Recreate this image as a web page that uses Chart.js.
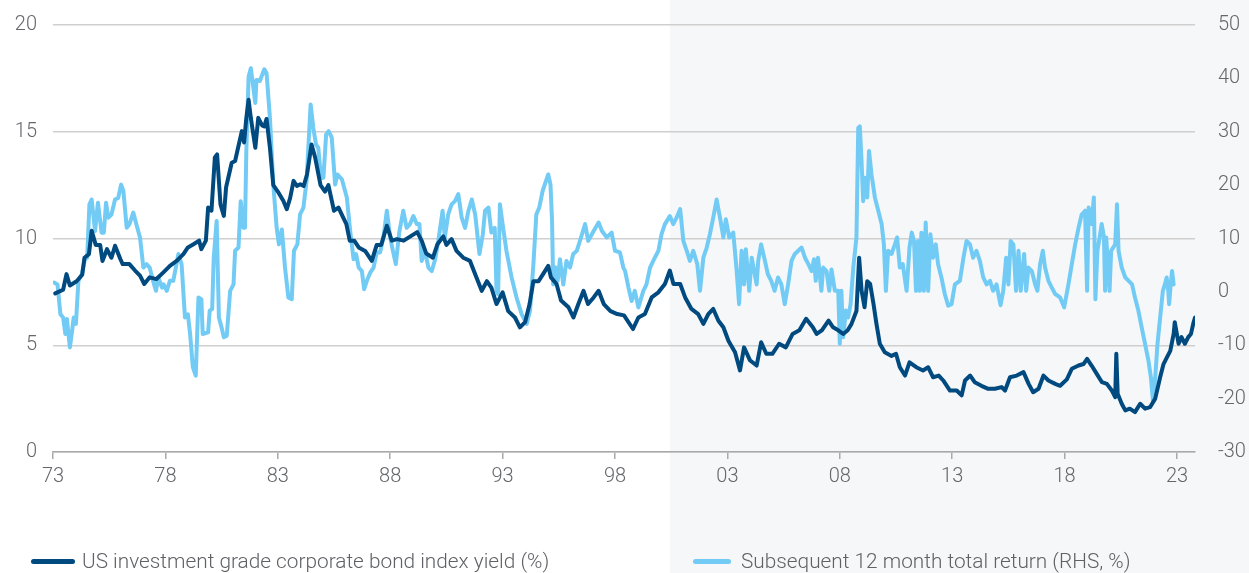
<!DOCTYPE html>
<html>
<head>
<meta charset="utf-8">
<script src="https://cdn.jsdelivr.net/npm/chart.js@4.4.1/dist/chart.umd.min.js"></script>
<style>
  body { margin: 0; background: #fff; }
  #wrap { position: relative; width: 1249px; height: 573px; }
  #legend { position: absolute; left: 0; top: 0; width: 1249px; height: 573px; pointer-events: none;
            font-family: Roboto, "Noto Sans", sans-serif; font-weight: 300; font-size: 20.8px; color: #5f6165; }
  .item { position: absolute; top: 548px; height: 26px; line-height: 26px; white-space: nowrap; }
  .swatch { position: absolute; top: 11px; height: 5px; border-radius: 3px; }
  .label { position: absolute; top: 0; }
</style>
</head>
<body>
<div id="wrap">
  <canvas id="chart" width="1249" height="573"></canvas>
  <div id="legend">
    <div class="item" style="left:0">
      <span class="swatch" style="left:31px;width:44px;background:#004a80"></span>
      <span class="label" style="left:82px">US investment grade corporate bond index yield (%)</span>
    </div>
    <div class="item" style="left:0">
      <span class="swatch" style="left:693px;width:38px;background:#72cbf4"></span>
      <span class="label" style="left:741px">Subsequent 12 month total return (RHS, %)</span>
    </div>
  </div>
</div>
<script>
// Year ticks shown on the x axis
const yearTicks = [1973, 1978, 1983, 1988, 1993, 1998, 2003, 2008, 2013, 2018, 2023];

// US IG corporate bond index yield (%), left axis
const yieldDates = [
  1973.1, 1973.45, 1973.6, 1973.75, 1974.05, 1974.3, 1974.4, 1974.6, 1974.72, 1974.9,
  1975.1, 1975.2, 1975.4, 1975.6, 1975.76, 1976.0, 1976.1, 1976.4, 1976.65, 1976.87,
  1977.06, 1977.3, 1977.6, 1977.9, 1978.2, 1978.5, 1978.8, 1979.0, 1979.25, 1979.5,
  1979.6, 1979.8, 1979.9, 1980.05, 1980.2, 1980.3, 1980.45, 1980.6, 1980.7, 1980.95,
  1981.1, 1981.2, 1981.4, 1981.5, 1981.6, 1981.7, 1981.8, 1982.0, 1982.13, 1982.3,
  1982.4, 1982.5, 1982.65, 1982.8, 1983.0, 1983.25, 1983.4, 1983.55, 1983.7, 1983.85,
  1984.0, 1984.15, 1984.3, 1984.5, 1984.66, 1984.9, 1985.1, 1985.25, 1985.5, 1985.7,
  1985.9, 1986.05, 1986.2, 1986.4, 1986.6, 1986.9, 1987.18, 1987.4, 1987.6, 1987.85,
  1988.07, 1988.3, 1988.6, 1988.9, 1989.2, 1989.4, 1989.6, 1989.9, 1990.1, 1990.36,
  1990.5, 1990.73, 1990.95, 1991.25, 1991.55, 1991.78, 1992.07, 1992.3, 1992.5, 1992.73,
  1993.0, 1993.25, 1993.55, 1993.77, 1994.0, 1994.2, 1994.37, 1994.6, 1994.8, 1995.03,
  1995.15, 1995.4, 1995.6, 1995.93, 1996.15, 1996.37, 1996.6, 1996.8, 1997.05, 1997.27,
  1997.5, 1997.8, 1998.1, 1998.4, 1998.8, 1999.04, 1999.33, 1999.63, 1999.93, 2000.22,
  2000.44, 2000.6, 2000.9, 2001.12, 2001.4, 2001.7, 2001.93, 2002.15, 2002.37, 2002.6,
  2002.82, 2003.05, 2003.34, 2003.56, 2003.74, 2004.0, 2004.3, 2004.5, 2004.73, 2005.0,
  2005.3, 2005.6, 2005.9, 2006.2, 2006.5, 2006.8, 2006.97, 2007.2, 2007.5, 2007.7,
  2007.93, 2008.15, 2008.35, 2008.52, 2008.74, 2008.86, 2008.97, 2009.1, 2009.22, 2009.35,
  2009.5, 2009.63, 2009.78, 2010.0, 2010.3, 2010.5, 2010.67, 2010.9, 2011.1, 2011.4,
  2011.7, 2011.93, 2012.15, 2012.4, 2012.6, 2012.9, 2013.2, 2013.42, 2013.57, 2013.8,
  2014.0, 2014.3, 2014.6, 2014.9, 2015.2, 2015.35, 2015.57, 2015.87, 2016.17, 2016.4,
  2016.6, 2016.84, 2017.06, 2017.28, 2017.58, 2017.8, 2018.1, 2018.32, 2018.62, 2018.84,
  2019.0, 2019.2, 2019.43, 2019.66, 2019.88, 2020.1, 2020.25, 2020.3, 2020.36, 2020.54,
  2020.7, 2020.9, 2021.13, 2021.36, 2021.58, 2021.8, 2022.03, 2022.25, 2022.4, 2022.55,
  2022.7, 2022.85, 2022.9, 2023.07, 2023.2, 2023.35, 2023.5, 2023.62, 2023.72, 2023.8
];
const yieldValues = [
  7.43, 7.6, 8.33, 7.8, 8.0, 8.3, 9.1, 9.27, 10.36, 9.7,
  9.7, 8.95, 9.5, 9.1, 9.66, 9.03, 8.8, 8.8, 8.5, 8.26,
  7.87, 8.18, 8.1, 8.4, 8.72, 8.95, 9.27, 9.58, 9.73, 9.9,
  9.5, 9.9, 11.45, 11.3, 13.8, 13.94, 11.6, 11.06, 12.4, 13.55,
  13.63, 14.1, 15.03, 14.5, 15.65, 16.5, 15.65, 14.25, 15.65, 15.3,
  15.25, 15.6, 14.25, 12.5, 12.2, 11.76, 11.37, 11.9, 12.7, 12.46,
  12.54, 12.46, 13.0, 14.4, 13.8, 12.5, 12.2, 12.5, 11.3, 11.45,
  11.0, 10.67, 9.9, 9.9, 9.58, 9.4, 8.95, 9.7, 9.7, 10.6,
  9.9, 9.97, 9.9, 10.1, 10.3, 9.9, 9.3, 9.1, 9.73, 10.1,
  9.7, 9.97, 9.42, 9.1, 8.95, 8.33, 7.55, 8.0, 7.7, 6.93,
  7.48, 6.6, 6.3, 5.84, 6.08, 6.93, 8.0, 8.0, 8.33, 8.72,
  8.18, 7.87, 7.1, 6.78, 6.3, 6.93, 7.55, 6.93, 7.24, 7.55,
  6.93, 6.6, 6.46, 6.4, 5.76, 6.3, 6.46, 7.24, 7.48, 7.87,
  8.5, 7.87, 7.87, 7.24, 6.7, 6.46, 6.0, 6.46, 6.7, 6.15,
  5.84, 5.2, 4.67, 3.82, 4.9, 4.3, 4.05, 5.14, 4.6, 4.6,
  5.07, 4.9, 5.53, 5.7, 6.24, 5.84, 5.53, 5.7, 6.15, 5.84,
  5.7, 5.53, 5.7, 6.0, 6.6, 9.1, 7.55, 6.78, 8.0, 7.87,
  6.93, 6.0, 5.07, 4.67, 4.5, 4.6, 3.97, 3.58, 4.2, 3.97,
  3.82, 3.97, 3.5, 3.58, 3.35, 2.88, 2.88, 2.65, 3.35, 3.58,
  3.27, 3.1, 2.96, 2.96, 3.04, 2.88, 3.5, 3.58, 3.74, 3.19,
  2.8, 2.96, 3.58, 3.35, 3.19, 3.1, 3.4, 3.9, 4.05, 4.12,
  4.36, 4.05, 3.66, 3.27, 3.19, 2.88, 2.57, 4.6, 2.73, 2.26,
  1.95, 2.03, 1.87, 2.26, 2.03, 2.1, 2.5, 3.5, 4.12, 4.43,
  4.74, 5.53, 6.08, 5.07, 5.38, 5.07, 5.38, 5.53, 6.0, 6.3
];

// Subsequent 12 month total return (%), right axis
const returnDates = [
  1973.05, 1973.2, 1973.33, 1973.45, 1973.55, 1973.62, 1973.75, 1973.85, 1973.92, 1974.02,
  1974.13, 1974.28, 1974.42, 1974.52, 1974.62, 1974.72, 1974.87, 1975.0, 1975.16, 1975.26,
  1975.36, 1975.46, 1975.6, 1975.76, 1975.9, 1976.03, 1976.13, 1976.28, 1976.4, 1976.57,
  1976.75, 1976.87, 1977.02, 1977.16, 1977.3, 1977.45, 1977.58, 1977.68, 1977.85, 1977.92,
  1978.06, 1978.2, 1978.35, 1978.58, 1978.72, 1978.87, 1979.0, 1979.1, 1979.22, 1979.35,
  1979.47, 1979.6, 1979.66, 1979.9, 1979.97, 1980.08, 1980.15, 1980.28, 1980.38, 1980.5,
  1980.6, 1980.73, 1980.88, 1981.03, 1981.1, 1981.25, 1981.35, 1981.47, 1981.54, 1981.6,
  1981.7, 1981.8, 1982.0, 1982.05, 1982.2, 1982.4, 1982.5, 1982.65, 1982.8, 1982.95,
  1983.05, 1983.18, 1983.32, 1983.47, 1983.62, 1983.72, 1983.87, 1983.99, 1984.14, 1984.28,
  1984.46, 1984.58, 1984.7, 1984.8, 1984.92, 1985.03, 1985.15, 1985.26, 1985.4, 1985.55,
  1985.65, 1985.85, 1986.07, 1986.22, 1986.37, 1986.48, 1986.6, 1986.74, 1986.84, 1986.96,
  1987.11, 1987.26, 1987.4, 1987.55, 1987.7, 1987.85, 1988.0, 1988.12, 1988.25, 1988.4,
  1988.58, 1988.73, 1988.88, 1989.03, 1989.18, 1989.3, 1989.4, 1989.55, 1989.7, 1989.85,
  1990.0, 1990.14, 1990.33, 1990.43, 1990.58, 1990.73, 1990.88, 1991.03, 1991.18, 1991.33,
  1991.48, 1991.63, 1991.78, 1991.97, 1992.12, 1992.22, 1992.37, 1992.5, 1992.65, 1992.73,
  1992.8, 1992.88, 1993.0, 1993.17, 1993.4, 1993.62, 1993.85, 1994.07, 1994.22, 1994.37,
  1994.5, 1994.63, 1994.78, 1994.93, 1995.03, 1995.13, 1995.2, 1995.25, 1995.34, 1995.45,
  1995.55, 1995.7, 1995.84, 1996.0, 1996.14, 1996.3, 1996.44, 1996.67, 1996.81, 1997.05,
  1997.27, 1997.42, 1997.63, 1997.85, 1998.0, 1998.22, 1998.37, 1998.45, 1998.6, 1998.74,
  1998.88, 1999.04, 1999.26, 1999.4, 1999.56, 1999.7, 1999.93, 2000.07, 2000.22, 2000.44,
  2000.59, 2000.74, 2000.9, 2001.04, 2001.19, 2001.33, 2001.48, 2001.66, 2001.78, 2001.93,
  2002.08, 2002.22, 2002.37, 2002.52, 2002.67, 2002.82, 2002.93, 2003.08, 2003.26, 2003.4,
  2003.52, 2003.63, 2003.74, 2003.82, 2003.97, 2004.08, 2004.3, 2004.37, 2004.5, 2004.67,
  2004.8, 2004.95, 2005.1, 2005.25, 2005.4, 2005.55, 2005.7, 2005.85, 2006.0, 2006.3,
  2006.45, 2006.6, 2006.75, 2006.85, 2006.93, 2007.03, 2007.18, 2007.26, 2007.41, 2007.53,
  2007.63, 2007.78, 2007.93, 2008.0, 2008.07, 2008.15, 2008.27, 2008.37, 2008.48, 2008.6,
  2008.74, 2008.82, 2008.89, 2008.96, 2009.04, 2009.11, 2009.22, 2009.3, 2009.41, 2009.56,
  2009.71, 2009.86, 2009.96, 2010.05, 2010.15, 2010.3, 2010.45, 2010.55, 2010.67, 2010.8,
  2010.97, 2011.1, 2011.2, 2011.3, 2011.39, 2011.48, 2011.56, 2011.63, 2011.74, 2011.82,
  2011.93, 2012.03, 2012.15, 2012.27, 2012.37, 2012.52, 2012.67, 2012.82, 2012.97, 2013.12,
  2013.34, 2013.5, 2013.64, 2013.79, 2013.93, 2014.08, 2014.23, 2014.38, 2014.53, 2014.68,
  2014.82, 2014.97, 2015.15, 2015.27, 2015.4, 2015.5, 2015.6, 2015.72, 2015.84, 2015.95,
  2016.05, 2016.2, 2016.29, 2016.39, 2016.54, 2016.69, 2016.79, 2016.91, 2017.03, 2017.13,
  2017.28, 2017.43, 2017.58, 2017.8, 2017.98, 2018.17, 2018.32, 2018.47, 2018.62, 2018.76,
  2018.91, 2019.0, 2019.07, 2019.2, 2019.3, 2019.37, 2019.46, 2019.58, 2019.65, 2019.75,
  2019.8, 2019.85, 2020.0, 2020.07, 2020.25, 2020.33, 2020.4, 2020.54, 2020.7, 2020.85,
  2021.0, 2021.13, 2021.28, 2021.43, 2021.58, 2021.73, 2021.84, 2021.93, 2022.03, 2022.13,
  2022.25, 2022.37, 2022.46, 2022.54, 2022.61, 2022.65, 2022.72, 2022.78, 2022.85
];
const returnValues = [
  1.76, 1.4, -4.2, -4.8, -7.9, -5.1, -10.4, -7.3, -4.8, -6.0,
  2.07, 3.3, 6.1, 6.4, 16.4, 17.3, 11.4, 16.7, 11.1, 11.1,
  16.7, 13.9, 14.5, 17.3, 17.6, 20.1, 18.9, 12.0, 12.7, 14.85,
  12.0, 10.2, 4.56, 5.2, 4.56, 2.07, 0.2, 2.7, 0.8, 1.4,
  0.2, 2.07, 2.07, 7.1, 5.2, -4.8, -4.2, -7.9, -14.1, -15.7,
  -1.05, -1.36, -7.9, -7.6, -3.5, -3.2, 6.4, 13.3, -4.8, -6.7,
  -8.5, -8.2, 0.2, 1.4, 7.7, 8.3, 17.0, 12.0, 12.0, 26.4,
  40.3, 41.9, 35.4, 39.7, 39.5, 41.7, 41.0, 32.6, 20.1, 12.0,
  8.9, 11.7, 4.56, -1.05, -1.4, 7.7, 8.9, 14.5, 15.8, 20.8,
  35.1, 30.7, 27.6, 27.0, 21.4, 21.4, 29.5, 30.1, 28.9, 20.1,
  22.0, 21.1, 17.7, 11.4, 6.1, 7.1, 4.56, 3.9, 0.5, 2.07,
  3.6, 4.56, 7.4, 7.4, 10.2, 15.2, 10.2, 7.7, 5.2, 11.1,
  15.2, 12.0, 12.7, 14.2, 12.7, 12.7, 5.8, 7.7, 4.56, 3.9,
  6.1, 9.55, 15.2, 10.2, 14.5, 16.4, 17.0, 18.3, 13.9, 12.0,
  15.2, 17.3, 14.5, 7.1, 10.8, 15.2, 15.8, 11.1, 12.0, 0.2,
  -0.4, 16.4, 12.7, 7.7, 2.7, -1.05, -4.2, -6.0, -3.5, 5.2,
  14.5, 15.8, 18.9, 20.8, 22.0, 20.1, 13.3, 1.4, 4.6, 2.07,
  6.1, 1.4, 5.8, 4.56, 7.1, 7.7, 9.55, 12.7, 9.55, 11.4,
  13.0, 11.4, 10.2, 11.1, 7.7, 7.4, 4.56, 3.9, 0.8, -1.7,
  0.2, -2.9, 0.2, 1.4, 4.56, 5.8, 7.7, 10.8, 12.7, 14.2,
  12.7, 13.9, 15.5, 9.55, 7.7, 5.8, 7.7, 5.2, 0.2, 6.4,
  8.3, 10.8, 13.9, 17.3, 13.9, 10.2, 13.6, 10.2, 11.1, 4.56,
  -2.3, 7.7, 1.4, 8.0, 0.2, 6.4, 1.4, 5.8, 8.9, 5.8,
  3.3, 2.07, 0.2, 2.7, 1.4, -2.3, 1.4, 5.8, 7.1, 8.3,
  6.4, 5.2, 3.9, 6.1, 2.07, 6.4, 0.2, 4.56, 3.9, 0.2,
  4.2, 0.2, 0.2, -9.7, 0.2, -8.5, -3.5, -4.8, -2.3, 4.56,
  10.2, 30.7, 31.0, 25.1, 17.0, 21.4, 17.7, 26.4, 22.0, 17.7,
  15.2, 12.7, 8.9, 0.2, 7.7, 7.1, 8.9, 10.2, 4.56, 5.2,
  0.2, 8.3, 11.1, 9.55, 0.2, 9.55, 0.2, 11.1, 0.2, 13.0,
  0.2, 10.8, 6.4, 8.9, 5.2, 2.7, -0.4, -2.6, -2.3, 1.4,
  2.07, 6.4, 9.55, 8.9, 6.4, 7.7, 5.8, 2.7, 1.4, 2.07,
  0.2, 1.4, -2.5, 0.2, 6.4, 1.4, 9.55, 8.9, 0.2, 7.7,
  0.2, 7.1, 0.2, 4.56, 3.9, 1.4, 0.2, 5.2, 7.7, 4.56,
  2.07, 0.8, -0.4, -1.05, -2.9, 1.4, 5.2, 8.9, 12.0, 14.5,
  15.2, 0.2, 15.8, 12.7, 17.7, -1.36, 7.7, 10.8, 12.7, 10.2,
  0.2, 10.2, 0.2, 7.7, 8.9, 16.4, 7.7, 4.56, 2.7, 2.07,
  1.4, -1.05, -3.5, -6.7, -9.8, -12.9, -16.1, -20.4, -16.1, -9.8,
  -4.8, 0.2, 1.4, 2.7, 0.2, -2.3, 1.4, 3.9, 1.4
];

const darkBlue = '#004a80';
const lightBlue = '#72cbf4';
const tickColor = '#65676b';
const tickFont = { family: 'Roboto, "Noto Sans", sans-serif', size: 20, weight: 300 };

// pale backdrop panel behind the right half of the chart
const backdrop = {
  id: 'backdrop',
  beforeDraw(chart) {
    const ctx = chart.ctx;
    ctx.save();
    ctx.fillStyle = '#ffffff';
    ctx.fillRect(0, 0, chart.width, chart.height);
    ctx.fillStyle = '#f6f7f8';
    ctx.fillRect(670, 0, chart.width - 670, chart.height);
    ctx.restore();
  }
};

const toPoints = (xs, ys) => xs.map((x, i) => ({ x: x, y: ys[i] }));

// keep the plot area fixed: no extra room for the end labels of the value axes
function fixWidth(w) {
  return scale => {
    scale.width = w;
    scale.paddingTop = 0;
    scale.paddingBottom = 0;
  };
}

new Chart(document.getElementById('chart'), {
  type: 'line',
  data: {
    datasets: [
      {
        label: 'US investment grade corporate bond index yield (%)',
        data: toPoints(yieldDates, yieldValues),
        yAxisID: 'y',
        borderColor: darkBlue,
        borderWidth: 4,
        pointRadius: 0,
        tension: 0,
        borderJoinStyle: 'round',
        borderCapStyle: 'round'
      },
      {
        label: 'Subsequent 12 month total return (RHS, %)',
        data: toPoints(returnDates, returnValues),
        yAxisID: 'y1',
        borderColor: lightBlue,
        borderWidth: 4,
        pointRadius: 0,
        tension: 0,
        borderJoinStyle: 'round',
        borderCapStyle: 'round'
      }
    ]
  },
  options: {
    responsive: false,
    animation: false,
    layout: { padding: { top: 25, left: 0, right: 0, bottom: 0 } },
    plugins: {
      legend: { display: false },
      tooltip: { enabled: false }
    },
    scales: {
      x: {
        type: 'linear',
        min: 1973,
        max: 2023.8,
        afterBuildTicks(scale) {
          scale.ticks = yearTicks.map(v => ({ value: v }));
        },
        afterFit(scale) {
          scale.height = 121;
          scale.paddingLeft = 0;
          scale.paddingRight = 0;
        },
        ticks: {
          color: tickColor,
          font: tickFont,
          padding: 6,
          maxRotation: 0,
          callback: v => String(v % 100).padStart(2, '0')
        },
        grid: { drawOnChartArea: false, drawTicks: true, tickLength: 7, color: '#a9a9a9', lineWidth: 1.5 },
        border: { display: true, color: '#a9a9a9', width: 1.5 }
      },
      y: {
        position: 'left',
        min: 0,
        max: 20,
        afterFit: fixWidth(53),
        ticks: { stepSize: 5, color: tickColor, font: tickFont, padding: 16 },
        grid: { color: '#cfcfcf', lineWidth: 1.5, drawTicks: false },
        border: { display: false }
      },
      y1: {
        position: 'right',
        min: -30,
        max: 50,
        afterFit: fixWidth(54),
        ticks: { stepSize: 10, color: tickColor, font: tickFont, padding: 23 },
        grid: { drawOnChartArea: false, drawTicks: false },
        border: { display: false }
      }
    }
  },
  plugins: [backdrop]
});
</script>
</body>
</html>
